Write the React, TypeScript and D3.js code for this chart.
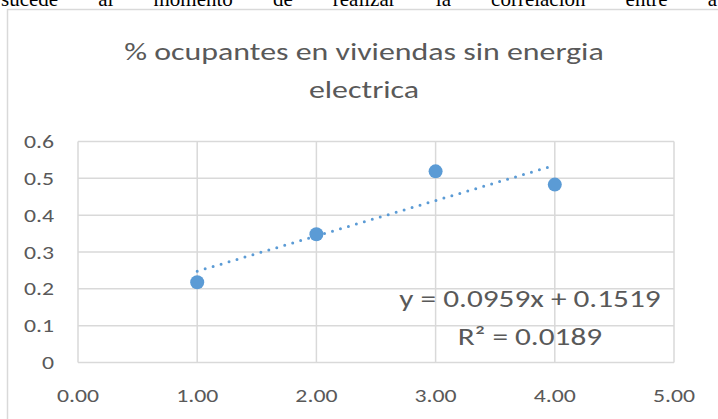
import React, { useLayoutEffect, useRef, useState } from "react";
import * as d3 from "d3";

const xValues = [1, 2, 3, 4];
const yValues = [0.218, 0.348, 0.519, 0.483];
const xTicks = [0, 1, 2, 3, 4, 5];
const yTicks = [0, 0.1, 0.2, 0.3, 0.4, 0.5, 0.6];
const trendSlope = 0.0959;
const trendIntercept = 0.1519;
const titleLines = ["% ocupantes en viviendas sin energia", "electrica"];
const equationLines = ["y = 0.0959x + 0.1519", "R² = 0.0189"];
const topText = "sucede al momento de realizar la correlacion entre a";

const W = 718;
const H = 419;
const FONT = "Calibri, Carlito, 'Open Sans', sans-serif";
const TEXT = "#595959";
const GRID = "#d9d9d9";
const BLUE = "#5b9bd5";

// horizontal stretch observed in the reference (Excel chart pasted with a wider aspect)
const STRETCH = 1.25;

function StretchedText(props: {
  x: number;
  y: number;
  size: number;
  anchor: "start" | "middle" | "end";
  children: string;
  dy?: string;
}) {
  const ref = useRef<SVGTextElement>(null);
  const [len, setLen] = useState<number | null>(null);
  useLayoutEffect(() => {
    if (ref.current && len === null) {
      setLen(ref.current.getComputedTextLength() * STRETCH);
    }
  }, [len]);
  return (
    <text
      ref={ref}
      x={props.x}
      y={props.y}
      dy={props.dy}
      textAnchor={props.anchor}
      fontFamily={FONT}
      fontSize={props.size}
      fill={TEXT}
      textLength={len ?? undefined}
      lengthAdjust="spacingAndGlyphs"
    >
      {props.children}
    </text>
  );
}

export default function App() {
  const x = d3.scaleLinear().domain([0, 5]).range([78, 674]);
  const y = d3.scaleLinear().domain([0, 0.6]).range([362.5, 141.5]);
  const trendX = [d3.min(xValues)!, d3.max(xValues)!];
  const line = d3
    .line<number>()
    .x((d) => x(d))
    .y((d) => y(trendSlope * d + trendIntercept));

  const topRef = useRef<SVGTextElement>(null);
  const [wordSpacing, setWordSpacing] = useState(0);
  useLayoutEffect(() => {
    if (topRef.current && wordSpacing === 0) {
      const natural = topRef.current.getComputedTextLength();
      const gaps = topText.split(" ").length - 1;
      setWordSpacing((W - 2 - natural) / gaps);
    }
  }, [wordSpacing]);

  return (
    <svg
      width={W}
      height={H}
      style={{ position: "absolute", left: 0, top: 0, background: "#fff" }}
    >
      <text
        ref={topRef}
        x={1}
        y={6}
        fontFamily="'Liberation Serif', 'Times New Roman', serif"
        fontSize={21}
        fill="#000"
        style={{ wordSpacing: wordSpacing + "px" }}
      >
        {topText}
      </text>
      <rect x={7.5} y={9.5} width={720} height={420} fill="#fff" stroke={GRID} strokeWidth={1.5} />
      {titleLines.map((t, i) => (
        <StretchedText key={t} x={364} y={60 + i * 38} anchor="middle" size={25.5}>
          {t}
        </StretchedText>
      ))}
      {yTicks.map((t) => (
        <line key={"gy" + t} x1={x(0)} x2={x(5)} y1={y(t)} y2={y(t)} stroke={GRID} strokeWidth={1.5} />
      ))}
      {xTicks.map((t) => (
        <line key={"gx" + t} x1={x(t)} x2={x(t)} y1={y(0)} y2={y(0.6)} stroke={GRID} strokeWidth={1.5} />
      ))}
      {yTicks.map((t) => (
        <StretchedText key={"ty" + t} x={54} y={y(t)} dy="0.35em" anchor="end" size={19}>
          {t === 0 ? "0" : d3.format(".1f")(t)}
        </StretchedText>
      ))}
      {xTicks.map((t) => (
        <StretchedText key={"tx" + t} x={x(t)} y={402} anchor="middle" size={19}>
          {d3.format(".2f")(t)}
        </StretchedText>
      ))}
      <path
        d={line(trendX) || ""}
        fill="none"
        stroke={BLUE}
        strokeWidth={3}
        strokeDasharray="0 8.3"
        strokeLinecap="round"
      />
      {xValues.map((v, i) => (
        <circle key={"p" + i} cx={x(v)} cy={y(yValues[i])} r={7} fill={BLUE} />
      ))}
      {equationLines.map((t, i) => (
        <StretchedText key={t} x={530} y={307 + i * 38} anchor="middle" size={25}>
          {t}
        </StretchedText>
      ))}
    </svg>
  );
}
